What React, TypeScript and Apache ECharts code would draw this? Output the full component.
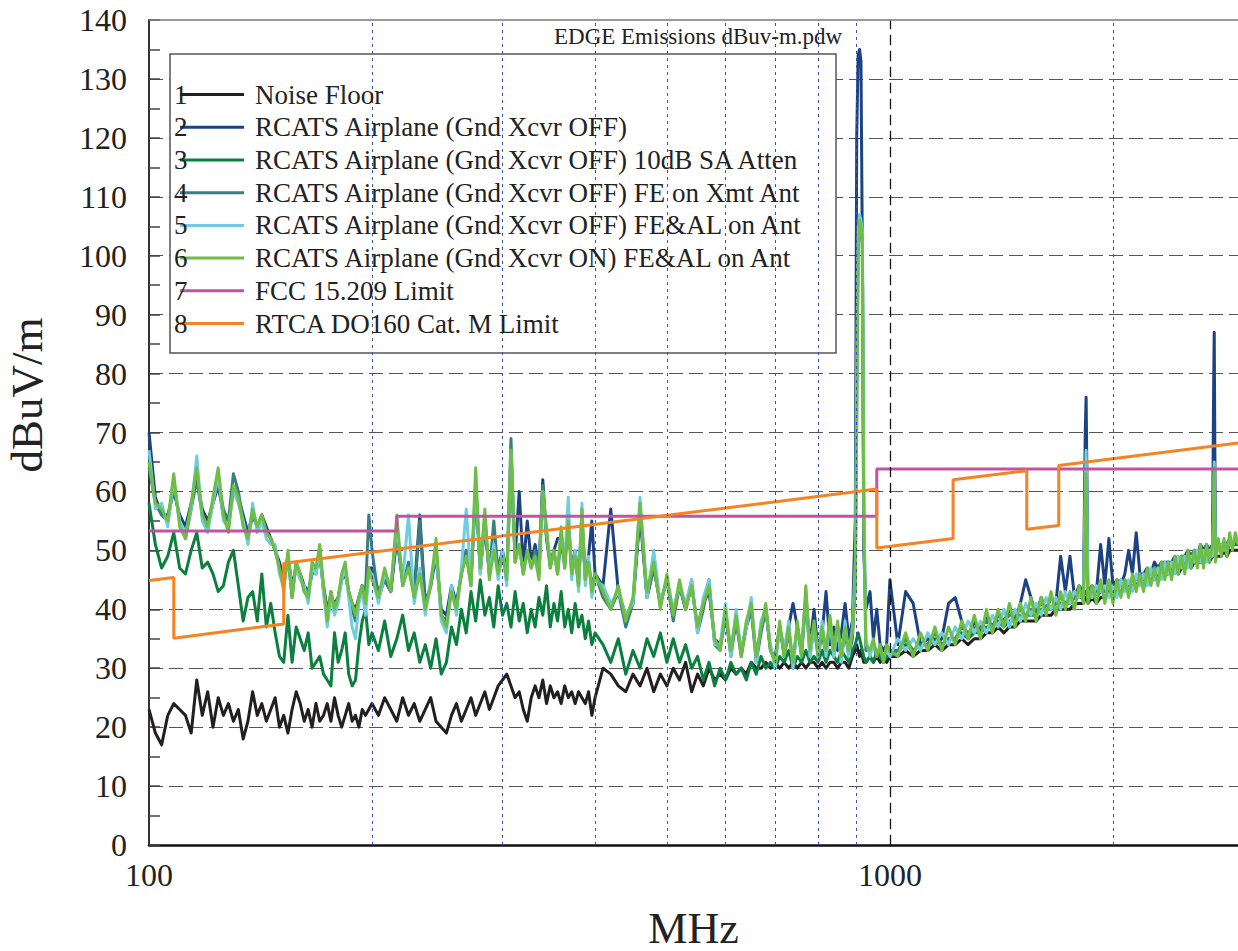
import React, { useEffect, useRef } from "react";
import * as echarts from "echarts";

// ---------- data ----------
const freqMHz = [
  // 100-198
  100, 102, 104, 106, 108, 110, 112, 114, 116, 118, 120, 122, 124, 126, 128, 130, 132, 134, 136, 138,
  140, 142, 144, 146, 148, 150, 152, 154, 156, 158, 160, 162, 164, 166, 168, 170, 172, 174, 176, 178,
  180, 182, 184, 186, 188, 190, 192, 194, 196, 198,
  // 200-400
  200, 204, 208, 212, 216, 220, 224, 228, 232, 236, 240, 244, 248, 252, 256, 260, 264, 268, 272, 276,
  280, 284, 288, 292, 296, 300, 304, 308, 312, 316, 320, 324, 328, 332, 336, 340, 344, 348, 352, 356,
  360, 364, 368, 372, 376, 380, 384, 388, 392, 396, 400,
  // 410-1000
  410, 420, 430, 440, 450, 460, 470, 480, 490, 500, 510, 520, 530, 540, 550, 560, 570, 580, 590, 600,
  610, 620, 630, 640, 650, 660, 670, 680, 690, 700, 710, 720, 730, 740, 750, 760, 770, 780, 790, 800,
  810, 820, 830, 840, 850, 860, 870, 880, 890,
  898, 902, 906, 910, 914, 918, 922, 928,
  940, 950, 960, 970, 980, 990, 1000,
  // 1025-2950
  1025, 1050, 1075, 1100, 1125, 1150, 1175, 1200, 1225, 1250,
  1275, 1300, 1325, 1350, 1375, 1400, 1425, 1450, 1475, 1500,
  1525, 1550, 1575, 1600, 1625, 1650, 1675, 1700, 1725, 1750,
  1775, 1800, 1825, 1835, 1840, 1845, 1850, 1875, 1900, 1925,
  1950, 1975, 2000, 2025, 2050, 2075, 2100, 2125, 2150, 2175,
  2200, 2225, 2250, 2275, 2300, 2325, 2350, 2375, 2400, 2425,
  2450, 2475, 2500, 2525, 2550, 2575, 2600, 2625, 2650, 2675,
  2700, 2725, 2735, 2740, 2745, 2750, 2775, 2800, 2825, 2850,
  2875, 2900, 2925, 2950,
];

const noiseFloor = [
  23, 19, 17, 22, 24, 23, 22, 19, 28, 22, 26, 20, 25, 22, 24, 21, 23, 18, 21, 26,
  22, 24, 21, 23, 25, 20, 22, 19, 23, 26, 24, 21, 23, 20, 24, 21, 22, 24, 21, 25,
  22, 20, 22, 24, 21, 22, 20, 23, 22, 23,
  24, 22, 25, 23, 21, 25, 22, 24, 21, 23, 25, 21, 20, 19, 22, 24, 21, 23, 25, 22,
  24, 26, 23, 25, 27, 28, 29, 27, 25, 26, 23, 21, 25, 27, 25, 28, 24, 27, 25, 26,
  24, 27, 25, 26, 24, 26, 25, 24, 26, 22, 25,
  30, 29, 27, 26, 29, 27, 30, 26, 29, 27, 30, 28, 31, 26, 29, 27, 30, 28, 29, 28,
  30, 29, 30, 29, 31, 30, 30, 31, 30, 31, 30, 31, 30, 31, 30, 31, 30, 31, 31, 30,
  31, 30, 31, 31, 30, 31, 31, 30, 32,
  33, 34, 33, 32, 33, 32, 31, 31,
  32, 31, 32, 31, 32, 31, 32,
  32, 33, 32, 33, 33, 34, 33, 34, 34, 35,
  34, 35, 35, 36, 36, 37, 36, 37, 37, 38,
  38, 38, 38, 39, 39, 39, 40, 40, 40, 40,
  41, 41, 41, 42, 42, 42, 41, 42, 41, 42,
  42, 43, 42, 43, 43, 44, 43, 44, 44, 45,
  44, 45, 45, 45, 46, 46, 46, 46, 47, 47,
  46, 47, 47, 48, 47, 48, 48, 48, 48, 49,
  48, 49, 49, 49, 49, 49, 49, 49, 50, 49,
  50, 50, 50, 50,
];

const gndOff = [
  70, 59, 56, 56, 60, 56, 54, 58, 62, 57, 55, 58, 61, 56, 55, 60, 59, 56, 53, 56,
  54, 56, 54, 52, 50, 48, 45, 49, 44, 47, 46, 44, 43, 46, 47, 49, 44, 40, 42, 41,
  42, 45, 46, 43, 41, 40, 42, 44, 42, 47,
  47, 43, 45, 43, 52, 45, 47, 43, 56, 41, 44, 49, 40, 39, 44, 41, 46, 50, 45, 60,
  47, 54, 46, 51, 47, 50, 46, 64, 49, 60, 47, 55, 48, 51, 47, 62, 52, 48, 50, 52,
  52, 48, 55, 47, 50, 45, 55, 46, 49, 55, 46,
  44, 57, 43, 39, 41, 56, 42, 47, 41, 45, 39, 44, 40, 44, 37, 41, 43, 35, 34, 39,
  33, 38, 33, 37, 40, 32, 37, 40, 33, 32, 37, 33, 37, 41, 37, 33, 42, 34, 40, 33,
  36, 43, 34, 37, 33, 36, 41, 35, 38,
  55, 120, 134, 135, 133, 100, 50, 40,
  43, 35, 40, 34, 33, 34, 45,
  34, 43, 41, 34, 35, 34, 35, 41, 42, 38,
  35, 38, 36, 39, 37, 39, 38, 40, 38, 41,
  45, 42, 39, 42, 40, 42, 41, 49, 43, 49,
  42, 44, 43, 70, 76, 62, 43, 44, 43, 51,
  44, 52, 44, 45, 44, 46, 50, 46, 53, 46,
  46, 47, 46, 48, 47, 48, 48, 48, 48, 49,
  48, 49, 49, 50, 49, 50, 49, 51, 50, 51,
  50, 51, 78, 87, 68, 51, 51, 51, 51, 51,
  52, 51, 52, 52,
];

const gndOff10dB = [
  58, 51, 47, 49, 53, 47, 46, 50, 53, 47, 48, 46, 43, 44, 48, 50, 44, 38, 42, 43,
  38, 46, 37, 41, 36, 32, 31, 39, 31, 37, 35, 33, 36, 30, 31, 32, 29, 28, 27, 36,
  31, 33, 36, 29, 27, 28, 34, 38, 40, 34,
  36, 33, 38, 32, 35, 39, 33, 36, 31, 34, 30, 35, 29, 31, 37, 34, 40, 36, 43, 38,
  45, 39, 42, 37, 44, 39, 41, 37, 43, 38, 41, 36, 40, 37, 42, 39, 44, 37, 41, 38,
  43, 37, 40, 36, 41, 37, 39, 35, 38, 34, 36,
  34, 31, 35, 29, 33, 30, 35, 32, 36, 31, 35, 31, 34, 30, 32, 28, 31, 27, 30, 28,
  31, 29, 30, 28, 31, 29, 32, 30, 31, 30, 32, 31, 33, 30, 32, 31, 33, 31, 32, 31,
  33, 31, 33, 32, 31, 33, 32, 31, 33,
  34, 35, 36, 35, 34, 33, 32, 31,
  32, 31, 33, 32, 31, 32, 33,
  33, 34, 33, 34, 34, 35, 34, 35, 35, 36,
  35, 36, 36, 37, 37, 38, 37, 38, 38, 39,
  39, 39, 39, 40, 40, 40, 41, 41, 41, 41,
  42, 42, 42, 43, 43, 43, 42, 43, 42, 43,
  43, 44, 43, 44, 44, 45, 44, 45, 45, 46,
  45, 46, 46, 46, 47, 47, 47, 47, 48, 48,
  47, 48, 48, 49, 48, 49, 49, 49, 49, 50,
  49, 50, 50, 50, 50, 50, 50, 50, 51, 50,
  51, 51, 51, 51,
];

const gndOffFeXmt = [
  64, 58, 56, 55, 61, 55, 52, 57, 62, 56, 54, 58, 62, 57, 55, 63, 60, 55, 52, 56,
  54, 56, 53, 52, 50, 47, 44, 49, 42, 48, 46, 43, 42, 47, 46, 50, 43, 39, 43, 40,
  42, 45, 47, 43, 40, 38, 42, 44, 43, 56,
  50, 42, 45, 43, 53, 44, 48, 42, 55, 40, 44, 50, 39, 38, 43, 41, 46, 50, 44, 61,
  46, 55, 46, 55, 46, 49, 46, 69, 48, 51, 46, 50, 47, 50, 46, 61, 52, 47, 50, 46,
  52, 47, 55, 46, 49, 44, 55, 45, 48, 44, 46,
  42, 40, 43, 37, 41, 57, 42, 47, 41, 45, 38, 44, 40, 45, 36, 40, 45, 34, 33, 39,
  32, 38, 32, 37, 40, 31, 36, 40, 33, 31, 37, 32, 36, 31, 37, 32, 42, 32, 37, 32,
  36, 32, 38, 32, 37, 32, 36, 32, 35,
  44, 75, 102, 105, 104, 102, 58, 33,
  33, 34, 32, 33, 31, 33, 32,
  33, 35, 33, 34, 34, 36, 34, 35, 35, 37,
  36, 37, 37, 38, 37, 39, 38, 39, 39, 40,
  39, 40, 40, 41, 40, 42, 41, 42, 41, 42,
  42, 43, 43, 57, 62, 53, 42, 43, 43, 44,
  43, 44, 43, 44, 45, 44, 44, 45, 45, 46,
  45, 46, 46, 47, 46, 47, 47, 48, 47, 48,
  48, 49, 48, 49, 49, 50, 49, 50, 49, 50,
  50, 50, 56, 63, 54, 50, 51, 50, 51, 50,
  51, 51, 52, 51,
];

const gndOffFeAl = [
  67, 57, 58, 54, 62, 55, 53, 57, 66, 55, 53, 58, 63, 55, 54, 60, 58, 55, 51, 58,
  53, 55, 52, 51, 51, 46, 44, 49, 43, 47, 45, 44, 41, 47, 46, 50, 43, 37, 42, 39,
  41, 45, 47, 42, 37, 35, 41, 43, 39, 46,
  46, 41, 46, 44, 54, 45, 56, 41, 47, 39, 45, 50, 38, 36, 44, 39, 47, 57, 45, 62,
  46, 56, 46, 51, 45, 50, 44, 67, 49, 50, 47, 49, 48, 48, 46, 60, 53, 48, 49, 47,
  53, 48, 59, 45, 50, 43, 58, 44, 49, 42, 45,
  44, 41, 43, 39, 41, 59, 42, 50, 41, 45, 40, 44, 41, 45, 36, 42, 45, 34, 34, 41,
  32, 40, 33, 37, 42, 31, 38, 40, 34, 30, 37, 33, 38, 30, 37, 33, 43, 32, 37, 33,
  38, 32, 38, 32, 37, 31, 38, 32, 37,
  48, 80, 104, 107, 106, 104, 60, 35,
  32, 34, 33, 33, 32, 33, 32,
  35, 33, 35, 33, 36, 34, 36, 34, 37, 35,
  38, 36, 38, 36, 39, 37, 40, 37, 40, 38,
  41, 39, 41, 39, 42, 40, 42, 40, 43, 41,
  43, 42, 43, 60, 67, 57, 43, 42, 44, 43,
  44, 42, 44, 42, 45, 43, 45, 43, 46, 44,
  46, 44, 47, 45, 47, 45, 48, 46, 48, 46,
  49, 47, 49, 47, 49, 48, 50, 48, 50, 48,
  50, 49, 57, 65, 56, 51, 50, 51, 50, 51,
  51, 51, 52, 52,
];

const gndOnFeAl = [
  65, 58, 57, 55, 63, 54, 52, 58, 64, 56, 54, 59, 64, 56, 53, 61, 59, 54, 52, 57,
  54, 56, 53, 52, 50, 47, 43, 50, 42, 48, 46, 43, 42, 48, 47, 51, 44, 38, 43, 40,
  42, 46, 48, 43, 41, 39, 42, 44, 41, 47,
  45, 42, 47, 43, 56, 44, 47, 42, 46, 40, 44, 52, 39, 37, 43, 40, 46, 49, 44, 64,
  47, 57, 45, 50, 46, 49, 45, 67, 48, 51, 46, 50, 47, 49, 45, 60, 54, 47, 50, 46,
  54, 47, 55, 46, 49, 44, 57, 45, 48, 43, 46,
  43, 40, 44, 38, 42, 58, 43, 48, 40, 46, 39, 45, 40, 44, 37, 41, 44, 35, 33, 40,
  33, 39, 32, 38, 41, 32, 37, 41, 33, 31, 38, 32, 37, 31, 38, 32, 44, 33, 38, 32,
  37, 33, 39, 33, 38, 32, 37, 33, 36,
  45, 70, 100, 106, 105, 103, 55, 34,
  33, 35, 32, 34, 31, 34, 33,
  32, 36, 32, 36, 33, 37, 33, 37, 34, 38,
  35, 39, 35, 40, 36, 40, 37, 41, 37, 41,
  38, 42, 38, 42, 39, 43, 39, 43, 40, 43,
  40, 44, 41, 55, 63, 50, 41, 44, 41, 45,
  41, 45, 41, 45, 42, 45, 42, 46, 43, 46,
  43, 47, 44, 47, 44, 48, 45, 48, 45, 49,
  46, 49, 46, 50, 47, 50, 47, 51, 47, 51,
  48, 51, 56, 64, 54, 48, 52, 49, 52, 49,
  53, 50, 53, 51,
];

const fccFreq = [100, 216, 216, 960, 960, 2950];
const fccLimit = [53.3, 53.3, 55.8, 55.8, 63.8, 63.8];

const rtcaFreq = [100, 108, 108, 152, 152, 960, 960, 1217, 1217, 1530, 1530, 1690, 1690, 2950];
const rtcaLimit = [44.9, 45.4, 35.1, 37.5, 47.8, 60.4, 50.4, 52.0, 62.0, 63.5, 53.6, 54.2, 64.4, 68.2];

const seriesNames = [
  "Noise Floor",
  "RCATS Airplane (Gnd Xcvr OFF)",
  "RCATS Airplane (Gnd Xcvr OFF) 10dB SA Atten",
  "RCATS Airplane (Gnd Xcvr OFF) FE on Xmt Ant",
  "RCATS Airplane (Gnd Xcvr OFF) FE&AL on Ant",
  "RCATS Airplane (Gnd Xcvr ON) FE&AL on Ant",
  "FCC 15.209 Limit",
  "RTCA DO160 Cat. M Limit",
];
const seriesColors = ["#231F20", "#1D4281", "#0B7F3E", "#3B7E82", "#6ECDE2", "#6EBE46", "#C054A4", "#F7821F"];

const minorGridFreqs = [200, 300, 400, 500, 600, 700, 800, 900, 2000];
const majorGridFreqs = [1000];
const xLabelValues = [100, 1000];

const chartTitle = "EDGE Emissions dBuv-m.pdw";
const xTitle = "MHz";
const yTitle = "dBuV/m";

const FONT = "Liberation Serif";

const zip = (xs: number[], ys: number[]) => xs.map((x, i) => [x, ys[i]]);

export default function App() {
  const ref = useRef<HTMLDivElement | null>(null);

  useEffect(() => {
    if (!ref.current) return;
    const chart = echarts.init(ref.current, undefined, { renderer: "svg" });

    const traces = [noiseFloor, gndOff, gndOff10dB, gndOffFeXmt, gndOffFeAl, gndOnFeAl];
    const traceSeries = traces.map((vals, i) => ({
      name: seriesNames[i],
      type: "line",
      data: zip(freqMHz, vals),
      showSymbol: false,
      symbol: "none",
      color: seriesColors[i],
      lineStyle: { width: 3, color: seriesColors[i], join: "round" },
      z: 2,
      silent: true,
    }));

    const limitSeries = [
      { name: seriesNames[6], type: "line", data: zip(fccFreq, fccLimit), color: seriesColors[6] },
      { name: seriesNames[7], type: "line", data: zip(rtcaFreq, rtcaLimit), color: seriesColors[7] },
    ].map((s) => ({
      ...s,
      showSymbol: false,
      symbol: "none",
      lineStyle: { width: 3, color: s.color },
      z: 3,
      silent: true,
    }));

    const gridSeries = {
      name: "__grid",
      type: "line",
      data: [],
      z: 1,
      silent: true,
      markLine: {
        silent: true,
        symbol: ["none", "none"],
        label: { show: false },
        animation: false,
        data: [
          ...minorGridFreqs.map((f) => ({
            xAxis: f,
            lineStyle: { type: [3, 4], color: "#3553B8", width: 1 },
          })),
          ...majorGridFreqs.map((f) => ({
            xAxis: f,
            lineStyle: { type: [10, 6], color: "#111", width: 1.3 },
          })),
          { yAxis: 140, lineStyle: { type: "solid", color: "#777", width: 1.6 } },
        ],
      },
    };

    const rowY = (i: number) => 94.6 + i * 32.7;

    chart.setOption({
      animation: false,
      backgroundColor: "#fff",
      textStyle: { fontFamily: FONT },
      title: {
        text: chartTitle,
        left: 554,
        top: 25,
        padding: 0,
        textStyle: { fontFamily: FONT, fontSize: 23, fontWeight: "normal", color: "#222" },
      },
      grid: { left: 149, right: 0, top: 20, bottom: 106, containLabel: false, outerBoundsMode: "none" },
      xAxis: {
        type: "log",
        logBase: 10,
        min: 100,
        max: 2950,
        name: xTitle,
        nameLocation: "middle",
        nameGap: 61,
        nameTextStyle: { fontFamily: FONT, fontSize: 44, color: "#222", lineHeight: 44 },
        axisLine: { show: true, lineStyle: { color: "#111", width: 2.5 } },
        axisTick: { show: false },
        splitLine: { show: false },
        axisLabel: {
          margin: 14,
          fontFamily: FONT,
          fontSize: 32,
          color: "#222",
          showMaxLabel: false,
          formatter: (v: number) => (xLabelValues.includes(Math.round(v)) ? String(Math.round(v)) : ""),
        },
      },
      yAxis: {
        type: "value",
        min: 0,
        max: 140,
        interval: 10,
        axisLine: { show: true, lineStyle: { color: "#333", width: 2 } },
        axisTick: { show: true, inside: true, length: 11, lineStyle: { color: "#444", width: 1.5 } },
        minorTick: { show: true, splitNumber: 2, length: 11, lineStyle: { color: "#444", width: 1.5 } },
        splitLine: {
          show: true,
          showMaxLine: false,
          lineStyle: { type: [14, 6], color: "#555", width: 1.2 },
        },
        axisLabel: { margin: 22, fontFamily: FONT, fontSize: 32, color: "#222" },
      },
      legend: {
        data: seriesNames,
        orient: "vertical",
        left: 180,
        top: 81.1,
        padding: 0,
        itemWidth: 64,
        itemHeight: 3,
        itemGap: 5.7,
        icon: "rect",
        selectedMode: false,
        z: 10,
        textStyle: { fontFamily: FONT, fontSize: 27, color: "#222", padding: [0, 0, 0, 6] },
      },
      graphic: [
        {
          type: "rect",
          z: 5,
          shape: { x: 170, y: 54, width: 666, height: 299 },
          style: { fill: "#fff", stroke: "#555", lineWidth: 1.5 },
        },
        ...seriesNames.map((_, i) => ({
          type: "text",
          z: 11,
          x: 174,
          y: rowY(i),
          style: { text: String(i + 1), fontFamily: FONT, fontSize: 27, fill: "#222", verticalAlign: "middle" },
        })),
        {
          type: "text",
          z: 11,
          x: 27,
          y: 395,
          rotation: Math.PI / 2,
          style: { text: yTitle, fontFamily: FONT, fontSize: 45, fill: "#222", align: "center", verticalAlign: "middle" },
        },
      ],
      series: [gridSeries, ...traceSeries, ...limitSeries],
    });

    return () => chart.dispose();
  }, []);

  return (
    <div
      ref={ref}
      style={{ position: "absolute", left: 0, top: 0, width: 1238, height: 951, background: "#fff" }}
    />
  );
}
